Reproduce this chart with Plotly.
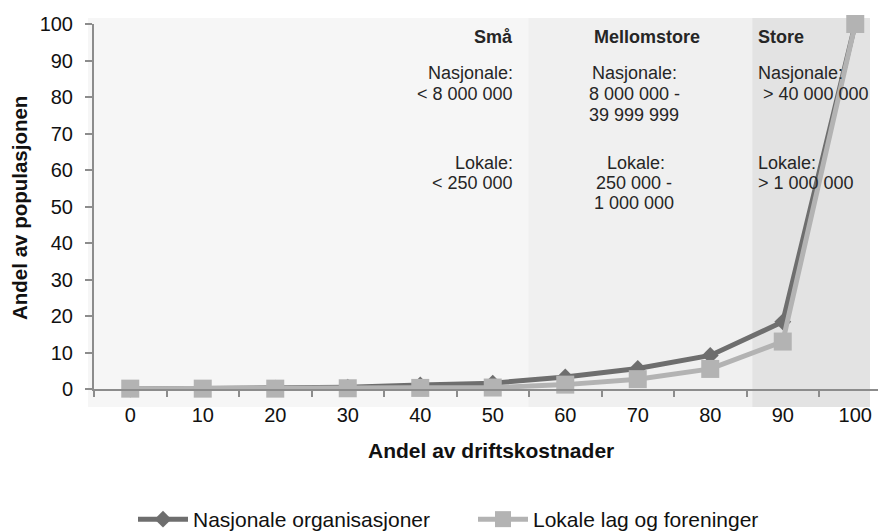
import plotly.graph_objects as go

categories = ["0", "10", "20", "30", "40", "50", "60", "70", "80", "90", "100"]
nasjonale = [0.0, 0.1, 0.2, 0.5, 1.1, 1.6, 3.3, 5.6, 9.2, 18.4, 100.0]
lokale = [0.1, 0.1, 0.1, 0.2, 0.3, 0.4, 1.2, 2.7, 5.5, 13.0, 100.0]
y_ticks = [0, 10, 20, 30, 40, 50, 60, 70, 80, 90, 100]

FONT = "Liberation Sans, Arial, sans-serif"
W, H = 886, 532
OFF = 8  # page body offset
L, R, T, B = 94 - OFF, 0, 24 - OFF, 532 - (389 - OFF)
PW, PH = W - L - R, H - T - B


def px(x):
    return (x - OFF - L) / PW


def py(y):
    return (H - B - (y - OFF)) / PH


fig = go.Figure()
fig.add_trace(go.Scatter(
    x=categories, y=nasjonale, name="Nasjonale organisasjoner",
    mode="lines+markers", cliponaxis=False,
    line=dict(color="#6e6e6e", width=5),
    marker=dict(symbol="diamond", size=13, color="#6e6e6e"),
))
fig.add_trace(go.Scatter(
    x=categories, y=lokale, name="Lokale lag og foreninger",
    mode="lines+markers", cliponaxis=False,
    line=dict(color="#b3b3b3", width=5),
    marker=dict(symbol="square", size=18, color="#b3b3b3"),
))

shapes = [
    dict(type="rect", xref="paper", yref="paper", x0=px(88), x1=px(870), y0=py(407), y1=py(18),
         fillcolor="#f6f6f6", line=dict(width=0), layer="below"),
    dict(type="rect", xref="paper", yref="paper", x0=px(528.5), x1=px(752.3), y0=py(407), y1=py(18),
         fillcolor="#f0f0f0", line=dict(width=0), layer="below"),
    dict(type="rect", xref="paper", yref="paper", x0=px(752.3), x1=px(870), y0=py(407), y1=py(18),
         fillcolor="#e3e3e3", line=dict(width=0), layer="below"),
]

ann = []


def txt(text, x, y, anchor, bold=False, size=18):
    ann.append(dict(text=f"<b>{text}</b>" if bold else text, xref="paper", yref="paper",
                    x=px(x), y=py(y), xanchor=anchor, yanchor="middle", showarrow=False,
                    font=dict(family=FONT, size=size, color="#262626")))


# Små
txt("Små", 515, 37, "right", bold=True)
txt("Nasjonale:", 515, 73, "right")
txt("< 8 000 000", 515, 94, "right")
txt("Lokale:", 515, 163, "right")
txt("< 250 000", 515, 183, "right")
# Mellomstore
txt("Mellomstore", 647, 37, "center", bold=True)
txt("Nasjonale:", 634, 73, "center")
txt("8 000 000 -", 634, 94, "center")
txt("39 999 999", 634, 115, "center")
txt("Lokale:", 636, 163, "center")
txt("250 000 -", 634, 183, "center")
txt("1 000 000", 634, 203, "center")
# Store
txt("Store", 756, 37, "left", bold=True)
txt("Nasjonale:", 756, 73, "left")
txt("\u00a0> 40 000 000", 756, 94, "left")
txt("Lokale:", 756, 163, "left")
txt("> 1 000 000", 756, 183, "left")

# axis titles
ann.append(dict(text="<b>Andel av driftskostnader</b>", xref="paper", yref="paper",
                x=px(491), y=py(450), xanchor="center", yanchor="middle", showarrow=False,
                font=dict(family=FONT, size=21, color="#111111")))
ann.append(dict(text="<b>Andel av populasjonen</b>", xref="paper", yref="paper",
                x=px(20), y=py(208), xanchor="center", yanchor="middle", showarrow=False,
                textangle=-90, font=dict(family=FONT, size=20.5, color="#111111")))

fig.update_layout(
    width=W, height=H,
    margin=dict(l=L, r=R, t=T, b=B),
    paper_bgcolor="white", plot_bgcolor="rgba(0,0,0,0)",
    font=dict(family=FONT, size=20, color="#111111"),
    shapes=shapes, annotations=ann,
    showlegend=True,
    legend=dict(orientation="h", x=px(133), y=py(520), xanchor="left", yanchor="middle",
                font=dict(family=FONT, size=21, color="#111111"),
                itemwidth=50, entrywidth=275, bgcolor="rgba(0,0,0,0)"),
    xaxis=dict(type="category", range=[-0.5, -0.5 + PW / 72.5], tickson="boundaries",
               ticks="outside", ticklen=6, tickwidth=1.5, tickcolor="#8c8c8c",
               showline=True, linecolor="#8c8c8c", linewidth=2, showgrid=False,
               zeroline=False, ticklabelstandoff=7, automargin=False,
               tickfont=dict(size=20, color="#111111"), fixedrange=True),
    yaxis=dict(range=[0, 100], tickvals=y_ticks, ticks="outside", ticklen=7, tickwidth=1.5,
               tickcolor="#8c8c8c", showline=True, linecolor="#8c8c8c", linewidth=2,
               showgrid=False, zeroline=False, ticklabelstandoff=8, automargin=False,
               tickfont=dict(size=20, color="#111111"), fixedrange=True),
)

fig.write_html("out.html")
